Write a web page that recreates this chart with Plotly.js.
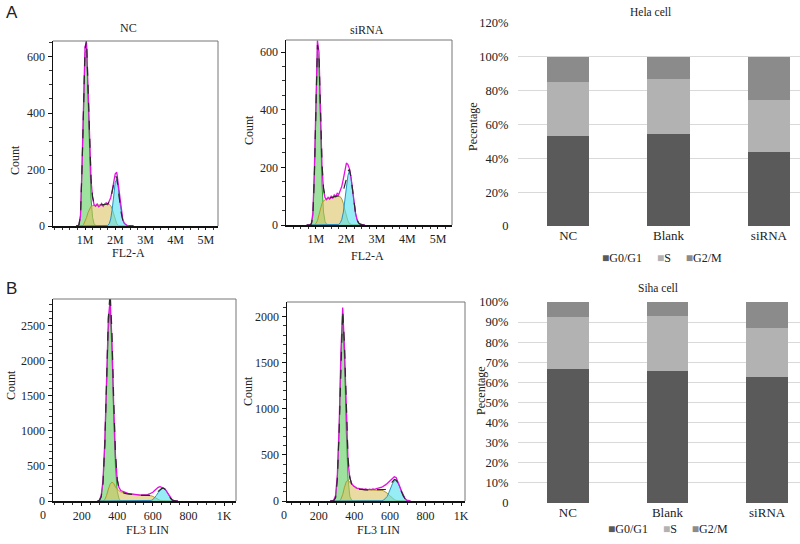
<!DOCTYPE html>
<html>
<head>
<meta charset="utf-8">
<script src="https://cdn.plot.ly/plotly-3.0.1.min.js"></script>
<style>html,body{margin:0;padding:0;background:#fff;}#chart{width:800px;height:544px;}</style>
</head>
<body>
<div id="chart"></div>
<script>
// ---------- Flow cytometry histograms, panel A (Hela), x in millions (FL2-A) ----------
const A_BINS = [0.70,0.75,0.80,0.85,0.90,0.95,1.00,1.05,1.10,1.15,1.20,1.25,1.30,1.35,1.40,1.45,1.50,1.55,1.60,1.65,1.70,1.75,1.80,1.85,1.90,1.95,2.00,2.05,2.10,2.15,2.20,2.25,2.30,2.35,2.40,2.45,2.50,2.55,2.60];

const HELA_NC_DATA = [0,0,3,35,210,470,635,650,500,290,160,100,75,70,78,68,72,80,70,78,82,76,88,100,125,155,185,190,150,95,50,22,10,4,1,0,0,0,0];
const HELA_NC_G1   = [0,0,5,40,200,450,610,630,450,230,95,30,8,2,0,0,0,0,0,0,0,0,0,0,0,0,0,0,0,0,0,0,0,0,0,0,0,0,0];
const HELA_NC_S    = [0,0,0,0,0,5,15,30,48,62,70,72,73,73,74,74,75,75,76,76,77,77,76,72,60,40,20,8,2,0,0,0,0,0,0,0,0,0,0];
const HELA_NC_G2   = [0,0,0,0,0,0,0,0,0,0,0,0,0,0,0,0,0,0,0,0,0,2,8,25,60,110,155,165,135,85,45,20,8,3,1,0,0,0,0];

const HELA_SI_DATA = [0,0,0,5,40,190,440,640,600,390,200,120,95,88,96,90,100,92,104,98,110,106,118,135,160,185,215,210,195,165,120,75,40,18,7,3,1,0,0];
const HELA_SI_G1   = [0,0,0,3,30,170,420,610,560,330,140,45,12,3,0,0,0,0,0,0,0,0,0,0,0,0,0,0,0,0,0,0,0,0,0,0,0,0,0];
const HELA_SI_S    = [0,0,0,0,0,0,5,15,35,58,75,84,88,90,92,94,95,97,98,100,100,100,98,90,75,52,30,14,5,1,0,0,0,0,0,0,0,0,0];
const HELA_SI_G2   = [0,0,0,0,0,0,0,0,0,0,0,0,0,0,0,0,0,0,0,0,0,2,8,20,45,85,130,172,188,165,120,75,40,18,7,3,1,0,0];

const A_TICKVALS = [1,2,3,4,5];
const A_TICKTEXT = ['1M','2M','3M','4M','5M'];

// ---------- Flow cytometry histograms, panel B (Siha), x in channels (FL3 LIN) ----------
const SIHA_NC_BINS = [290,300,310,320,330,340,350,360,370,380,390,400,410,420,430,440,450,460,470,480,490,500,510,520,530,540,550,560,570,580,590,600,610,620,630,640,650,660,670,680,690,700,710,720,730,740];
const SIHA_NC_DATA = [0,15,80,300,850,1750,2600,2870,2300,1350,640,300,190,150,140,122,118,110,104,100,96,94,88,90,84,88,86,90,92,100,110,125,150,175,195,205,200,185,165,125,75,35,12,3,0,0];
const SIHA_NC_G1   = [0,10,60,260,780,1650,2450,2740,2150,1200,480,140,30,5,0,0,0,0,0,0,0,0,0,0,0,0,0,0,0,0,0,0,0,0,0,0,0,0,0,0,0,0,0,0,0,0];
const SIHA_NC_S    = [0,0,0,0,20,80,170,240,270,250,200,165,145,130,120,112,105,100,95,92,88,86,84,82,80,80,80,80,80,78,75,65,50,35,20,10,4,1,0,0,0,0,0,0,0,0];
const SIHA_NC_G2   = [0,0,0,0,0,0,0,0,0,0,0,0,0,0,0,0,0,0,0,0,0,0,0,0,0,0,0,0,0,2,8,20,45,80,120,155,175,180,165,125,75,35,12,3,0,0];

const SIHA_SI_BINS = [265,275,285,295,305,315,325,335,345,355,365,375,385,395,405,415,425,435,445,455,465,475,485,495,505,515,525,535,545,555,565,575,585,595,605,615,625,635,645,655,665,675,685,695,705,715];
const SIHA_SI_DATA = [0,0,10,60,290,820,1620,2100,1650,900,420,250,190,165,150,140,138,128,132,125,130,122,128,124,130,126,134,136,145,150,160,175,190,210,230,250,262,255,215,160,105,58,27,9,2,0];
const SIHA_SI_G1   = [0,0,5,35,240,760,1550,2000,1550,760,240,50,8,0,0,0,0,0,0,0,0,0,0,0,0,0,0,0,0,0,0,0,0,0,0,0,0,0,0,0,0,0,0,0,0,0];
const SIHA_SI_S    = [0,0,0,0,0,0,20,70,150,210,225,205,175,155,142,135,130,126,124,122,120,120,120,120,120,120,120,120,118,115,110,100,85,65,45,28,15,6,2,0,0,0,0,0,0,0];
const SIHA_SI_G2   = [0,0,0,0,0,0,0,0,0,0,0,0,0,0,0,0,0,0,0,0,0,0,0,0,0,0,0,0,0,3,10,25,50,95,145,190,220,222,195,150,100,55,25,8,2,0];

const B_TICKVALS = [200,400,600,800,1000];
const B_TICKTEXT = ['200','400','600','800','1K'];

// ---------- Stacked bar charts ----------
const CATEGORIES = ['NC','Blank','siRNA'];
const PHASES = ['G0/G1','S','G2/M'];
const HELA_G0G1 = [0.533,0.541,0.438];
const HELA_S    = [0.319,0.327,0.304];
const HELA_G2M  = [0.148,0.132,0.258];
const SIHA_G0G1 = [0.665,0.655,0.628];
const SIHA_S    = [0.259,0.277,0.241];
const SIHA_G2M  = [0.076,0.068,0.131];
const HELA_TICKVALS = [0,0.2,0.4,0.6,0.8,1.0,1.2];
const HELA_TICKTEXT = ['0','20%','40%','60%','80%','100%','120%'];
const SIHA_TICKVALS = [0,0.1,0.2,0.3,0.4,0.5,0.6,0.7,0.8,0.9,1.0];
const SIHA_TICKTEXT = ['0','10%','20%','30%','40%','50%','60%','70%','80%','90%','100%'];

// ---------- styling ----------
const W = 800, H = 544;
const SERIF = '"Liberation Serif", "Times New Roman", serif';
const SANS = '"Liberation Sans", Arial, sans-serif';
const PHASE_COLORS = ['#5a5a5a','#b2b2b2','#8b8b8b'];
const px = v => v / W;
const py = v => 1 - v / H;

function histTraces(bins, data, g1, s, g2, xa, ya) {
  const fit = bins.map((_, i) => g1[i] + s[i] + g2[i]);
  const base = {type:'scatter', mode:'lines', x:bins, xaxis:xa, yaxis:ya, showlegend:false, hoverinfo:'skip'};
  return [
    Object.assign({}, base, {y:g1, fill:'tozeroy', fillcolor:'rgba(95,205,95,0.6)', line:{color:'#2f9e2f', width:1}}),
    Object.assign({}, base, {y:s,  fill:'tozeroy', fillcolor:'rgba(218,195,100,0.6)', line:{color:'#b29a2a', width:1}}),
    Object.assign({}, base, {y:g2, fill:'tozeroy', fillcolor:'rgba(80,225,240,0.6)', line:{color:'#2a8fc0', width:1}}),
    Object.assign({}, base, {y:data, line:{color:'#e010e0', width:1.3}}),
    Object.assign({}, base, {y:fit, line:{color:'#2a2a2a', width:1.2, dash:'dash'}})
  ];
}

function barTraces(g0, s, g2, xa, ya) {
  return [g0, s, g2].map((vals, i) => ({
    type:'bar', x:CATEGORIES, y:vals, name:PHASES[i], xaxis:xa, yaxis:ya,
    marker:{color:PHASE_COLORS[i], line:{width:0}}, width:0.42,
    showlegend:false, hoverinfo:'skip'
  }));
}

const traces = [].concat(
  histTraces(A_BINS, HELA_NC_DATA, HELA_NC_G1, HELA_NC_S, HELA_NC_G2, 'x', 'y'),
  histTraces(A_BINS, HELA_SI_DATA, HELA_SI_G1, HELA_SI_S, HELA_SI_G2, 'x2', 'y2'),
  barTraces(HELA_G0G1, HELA_S, HELA_G2M, 'x3', 'y3'),
  histTraces(SIHA_NC_BINS, SIHA_NC_DATA, SIHA_NC_G1, SIHA_NC_S, SIHA_NC_G2, 'x4', 'y4'),
  histTraces(SIHA_SI_BINS, SIHA_SI_DATA, SIHA_SI_G1, SIHA_SI_S, SIHA_SI_G2, 'x5', 'y5'),
  barTraces(SIHA_G0G1, SIHA_S, SIHA_G2M, 'x6', 'y6')
);

const tickFont = {family:SERIF, size:12, color:'#222'};
function histX(domain, range, anchor, tv, tt, minorDt, tl) {
  return {domain, range, anchor, tickvals:tv, ticktext:tt, showline:true, linecolor:'#111', linewidth:1.5,
    ticks:'outside', ticklen:tl, tickcolor:'#111', tickfont:tickFont, showgrid:false, zeroline:false,
    minor:{dtick:minorDt, ticks:'outside', ticklen:2, tickcolor:'#333', showgrid:false}, fixedrange:true};
}
function histY(domain, range, anchor, dtick, minorDt) {
  return {domain, range, anchor, dtick, tick0:0, showline:true, linecolor:'#111', linewidth:1.5,
    ticks:'outside', ticklen:4, tickcolor:'#111', tickfont:tickFont, showgrid:false, zeroline:false,
    minor:{dtick:minorDt, ticks:'outside', ticklen:2.5, tickcolor:'#333', showgrid:false}, fixedrange:true};
}
function barX(domain, range, anchor) {
  return {domain, range, anchor, type:'category', showline:false, showgrid:false, zeroline:false,
    ticks:'', tickfont:{family:SERIF, size:13, color:'#222'}, fixedrange:true};
}
function barY(domain, range, anchor, tv, tt) {
  return {domain, range, anchor, tickvals:tv, ticktext:tt, showline:false, showgrid:true, gridcolor:'#d9d9d9', gridwidth:1,
    zeroline:false, ticks:'outside', ticklen:6, tickcolor:'rgba(0,0,0,0)', tickfont:{family:SERIF, size:12.5, color:'#222'}, fixedrange:true};
}

function ann(text, x, y, o) {
  return Object.assign({text, x:px(x), y:py(y), xref:'paper', yref:'paper', showarrow:false,
    xanchor:'center', yanchor:'middle', font:{family:SERIF, size:12, color:'#222'}}, o || {});
}

function legendText() {
  const sp = '\u00A0\u00A0\u00A0\u00A0\u00A0';
  return PHASES.map((p, i) => '<span style="color:' + PHASE_COLORS[i] + '">\u25A0</span>' + p).join(sp);
}

function frame(xa, ya) {
  const l = {color:'#777', width:1};
  return [
    {type:'line', xref:xa + ' domain', yref:ya + ' domain', x0:0, x1:1, y0:1, y1:1, line:l},
    {type:'line', xref:xa + ' domain', yref:ya + ' domain', x0:1, x1:1, y0:0, y1:1, line:l}
  ];
}

const layout = {
  width:W, height:H, margin:{l:0, r:0, t:0, b:0}, paper_bgcolor:'#fff', plot_bgcolor:'rgba(0,0,0,0)',
  showlegend:false, hovermode:false, barmode:'stack',
  font:{family:SERIF, size:12, color:'#222'},
  xaxis:  histX([px(53), px(218)], [-0.06, 5.40], 'y', A_TICKVALS, A_TICKTEXT, 0.25, 2),
  yaxis:  histY([py(226), py(41)], [0, 655], 'x', 200, 50),
  xaxis2: histX([px(286), px(452)], [0.02, 5.46], 'y2', A_TICKVALS, A_TICKTEXT, 0.25, 2),
  yaxis2: histY([py(225), py(40)], [0, 642], 'x2', 200, 50),
  xaxis3: barX([px(518), 1], [-0.5, 2.31], 'y3'),
  yaxis3: barY([py(226), py(23)], [0, 1.2], 'x3', HELA_TICKVALS, HELA_TICKTEXT),
  xaxis4: histX([px(53), px(236)], [39, 1067], 'y4', B_TICKVALS, B_TICKTEXT, 50, 3),
  yaxis4: histY([py(501), py(299)], [0, 2880], 'x4', 500, 100),
  xaxis5: histX([px(287), px(465)], [22, 1022], 'y5', B_TICKVALS, B_TICKTEXT, 50, 3),
  yaxis5: histY([py(501), py(302)], [0, 2160], 'x5', 500, 100),
  xaxis6: barX([px(518), 1], [-0.5, 2.33], 'y6'),
  yaxis6: barY([py(503), py(302)], [0, 1.0], 'x6', SIHA_TICKVALS, SIHA_TICKTEXT),
  shapes: [].concat(frame('x','y'), frame('x2','y2'), frame('x4','y4'), frame('x5','y5')),
  annotations: [
    ann('A', 12, 12, {font:{family:SANS, size:17, color:'#222'}}),
    ann('B', 11, 288, {font:{family:SANS, size:17, color:'#222'}}),
    ann('NC', 128, 28),
    ann('siRNA', 367, 30),
    ann('FL2-A', 128, 253),
    ann('FL2-A', 367, 256),
    ann('Count', 15, 160, {textangle:-90}),
    ann('Count', 249, 130, {textangle:-90}),
    ann('Count', 11, 385, {textangle:-90}),
    ann('Count', 248, 391, {textangle:-90}),
    ann('FL3 LIN', 147, 530),
    ann('FL3 LIN', 378, 530),
    ann('0', 43, 515),
    ann('0', 284, 515),
    ann('Hela cell', 650, 12, {font:{family:SERIF, size:11.5, color:'#222'}}),
    ann('Siha cell', 658, 288, {font:{family:SERIF, size:11.5, color:'#222'}}),
    ann('Pecentage', 473, 127, {textangle:-90}),
    ann('Pecentage', 481, 390, {textangle:-90}),
    ann(legendText(), 662, 258),
    ann(legendText(), 668, 529)
  ]
};

Plotly.newPlot('chart', traces, layout, {staticPlot:true, displayModeBar:false});
</script>
</body>
</html>
